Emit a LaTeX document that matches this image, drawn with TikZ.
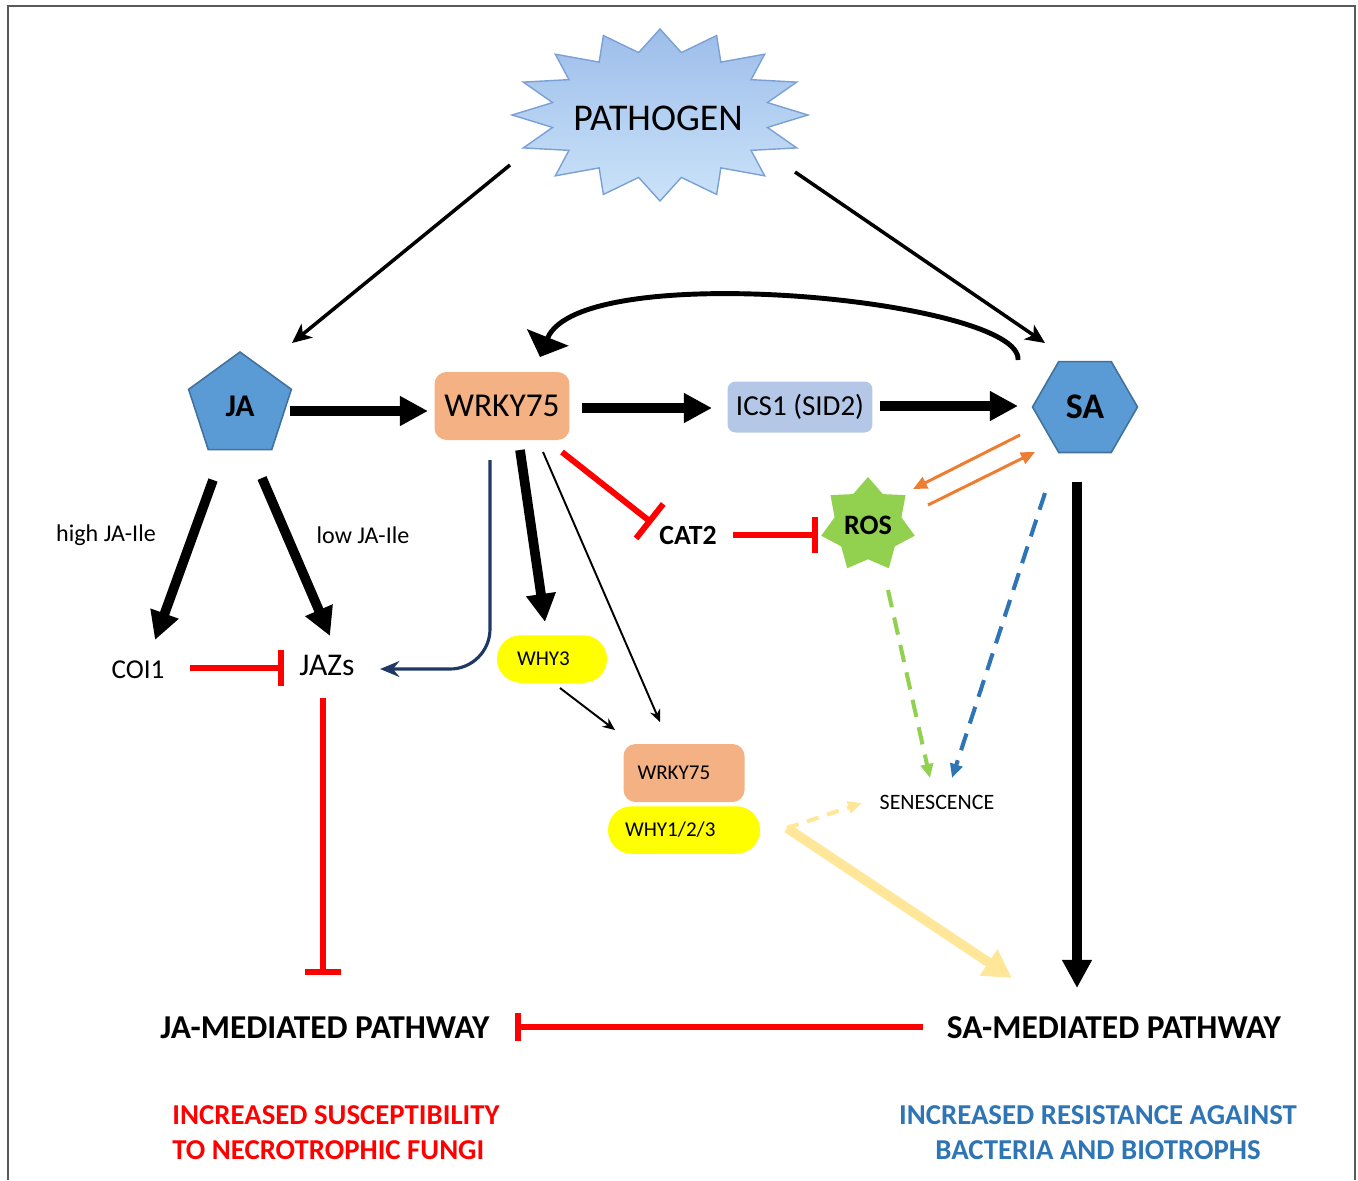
\documentclass[tikz,border=0pt]{standalone}
\usepackage{fontspec}
\setmainfont{Carlito}
\usepackage{xcolor}
\usetikzlibrary{arrows.meta,calc,shapes.geometric}
\definecolor{hblue}{HTML}{5B9BD5}
\definecolor{hedge}{HTML}{41719C}
\definecolor{wrkyorange}{HTML}{F4B183}
\definecolor{icsblue}{HTML}{B4C7E7}
\definecolor{whyyellow}{HTML}{FFFF00}
\definecolor{rosgreen}{HTML}{92D050}
\definecolor{inhred}{HTML}{FF0000}
\definecolor{feedorange}{HTML}{ED7D31}
\definecolor{senblue}{HTML}{2E75B6}
\definecolor{paleyellow}{HTML}{FFE699}
\definecolor{navyline}{HTML}{1F3864}
\definecolor{skytop}{HTML}{9DBDEA}
\definecolor{skybot}{HTML}{CBE3F9}
\definecolor{skyedge}{HTML}{7BA0D4}
\newcommand{\fsz}[1]{\fontsize{#1}{#1}\selectfont}

\begin{document}
\begin{tikzpicture}[
  x=0.02cm,
  y=-0.02cm,
  frame/.style={draw=black!65, line width=0.9pt},
  hormone/.style={regular polygon, draw=hedge, fill=hblue, line width=0.9pt, inner sep=0pt, font=\bfseries\fsz{18}},
  gene/.style={fill=wrkyorange, rounded corners=0.24cm, inner sep=0pt},
  pill/.style={fill=whyyellow, rounded corners=0.47cm, inner sep=0pt, minimum height=0.95cm, align=left, font=\fsz{12}},
  heavy/.style={line width=5.5pt, -{Triangle[length=16pt,width=16pt]}},
  plain/.style={line width=2pt, -{Stealth[length=11pt,width=10pt,inset=3pt]}},
  slim/.style={line width=1.1pt, -{Stealth[length=7pt,width=6pt]}},
  curvy/.style={line width=2.8pt, -{Triangle[length=12pt,width=25pt]}},
  inhib/.style={draw=inhred, line width=3.4pt, -{Bar[width=21pt]}},
  swap/.style={draw=feedorange, line width=1.7pt, -{Triangle[length=8pt,width=7pt]}},
  dashflow/.style={line width=2.3pt, dash pattern=on 10pt off 6pt, -{Triangle[length=8pt,width=7pt]}},
  tag/.style={font=\fsz{13.7}},
  pathway/.style={font=\bfseries\fsz{19}},
  outcome/.style={font=\bfseries\fontsize{16.4}{20}\selectfont, align=center}
]
\useasboundingbox (0,0) rectangle (1358,1180);
\draw[frame] (8,1180) -- (8,6) -- (1355,6) -- (1355,1180);

\shade[top color=skytop, bottom color=skybot, draw=skyedge, line width=0.8pt]
  ($(660,115)+(90:148 and 86)$)
  \foreach \k [evaluate=\k as \r using {mod(\k,2)==0 ? 1 : 0.74}] in {1,...,31} {
    -- ($(660,115)+({90+\k*11.25}:{148*\r} and {86*\r})$) } -- cycle;
\node[font=\fsz{21.5}] (pathogen) at (658,118) {PATHOGEN};

\node[hormone, minimum size=2.16cm] (ja) at (240,406) {JA};
\node[gene, minimum width=2.7cm, minimum height=1.36cm, font=\fsz{19}] (wrky) at (502,406) {WRKY75};
\node[fill=icsblue, rounded corners=0.16cm, minimum width=2.9cm, minimum height=1.02cm, font=\fsz{16.5}] (ics) at (800,407) {ICS1 (SID2)};
\node[hormone, regular polygon sides=6, minimum size=2.1cm, font=\bfseries\fsz{20.5}] (sa) at (1085,407) {SA};
\node[font=\bfseries\fsz{15.8}] (cat2) at (688,535) {CAT2};
\node[star, star points=7, star point ratio=1.4, minimum size=1.92cm, inner sep=0pt, fill=rosgreen, font=\bfseries\fsz{16}] (ros) at (868,525) {ROS};
\node[tag] (high) at (106,535) {high JA-Ile};
\node[tag] (low) at (363,535) {low JA-Ile};
\node[font=\fsz{15.5}] (coi1) at (138,670) {COI1};
\node[font=\fsz{18}] (jazs) at (327,665) {JAZs};
\node[pill, minimum width=2.18cm, text width=1.4cm, inner xsep=0.4cm] (why3) at (552,659) {WHY3};
\node[gene, minimum width=2.42cm, minimum height=1.16cm, text width=1.86cm, inner xsep=0.28cm, align=left, font=\fsz{12}] (wrky2) at (684,773) {WRKY75};
\node[pill, minimum width=3.04cm, text width=2.36cm, inner xsep=0.34cm] (why123) at (684,830) {WHY1/2/3};
\node[font=\fsz{12.5}] (senescence) at (937,802) {SENESCENCE};
\node[pathway] (japath) at (325,1028) {JA-MEDIATED PATHWAY};
\node[pathway] (sapath) at (1114,1028) {SA-MEDIATED PATHWAY};
\node[outcome, align=left, text=inhred] (jaout) at (336,1133) {INCREASED SUSCEPTIBILITY\\TO NECROTROPHIC FUNGI};
\node[outcome, text=senblue] (saout) at (1098,1133) {INCREASED RESISTANCE AGAINST\\BACTERIA AND BIOTROPHS};

\draw[plain] ($(pathogen)+(-148,47)$) -- ($(ja)+(52,-63)$);
\draw[plain] ($(pathogen)+(137,54)$) -- ($(sa)+(-40,-64)$);
\draw[curvy] ($(sa)+(-67,-47)$) .. controls +(5,-60) and +(40,-100) .. ($(wrky)+(38,-49)$);
\draw[heavy] ($(ja)+(50,5)$) -- ($(wrky)+(-74,5)$);
\draw[heavy] ($(wrky)+(80,2)$) -- ($(ics)+(-88,1)$);
\draw[heavy] ($(ics)+(80,-1)$) -- ($(sa)+(-67,-1)$);
\draw[heavy] ($(sa)+(-8,75)$) -- ($(sapath)+(-37,-40)$);
\draw[heavy] ($(ja)+(-27,74)$) -- ($(coi1)+(17,-30)$);
\draw[heavy] ($(ja)+(22,72)$) -- ($(jazs)+(3,-29)$);
\draw[heavy] ($(wrky)+(18,44)$) -- ($(why3)+(-7,-37)$);
\draw[slim] ($(wrky)+(41,46)$) -- ($(wrky2)+(-24,-51)$);
\draw[slim] ($(why3)+(8,29)$) -- ($(wrky2)+(-69,-43)$);
\draw[navyline, line width=1.8pt, rounded corners=0.8cm, -{Stealth[length=11pt,width=9pt]}] ($(wrky)+(-12,54)$) |- ($(jazs)+(53,4)$);
\draw[inhib, -{Bar[width=25pt]}] ($(wrky)+(60,46)$) -- ($(cat2)+(-36,-12)$);
\draw[inhib] ($(cat2)+(45,0)$) -- ($(ros)+(-50,10)$);
\draw[inhib] ($(coi1)+(52,-2)$) -- ($(jazs)+(-43,3)$);
\draw[inhib] ($(jazs)+(-4,33)$) -- ($(japath)+(-2,-53)$);
\draw[inhib, -{Bar[width=16pt]}] ($(sapath)+(-191,-1)$) -- ($(japath)+(190,-1)$);
\draw[swap] ($(sa)+(-65,28)$) -- ($(ros)+(45,-36)$);
\draw[swap] ($(ros)+(60,-20)$) -- ($(sa)+(-50,45)$);
\draw[dashflow, draw=rosgreen] ($(ros)+(20,65)$) -- ($(senescence)+(-7,-24)$);
\draw[dashflow, draw=senblue] ($(sa)+(-40,86)$) -- ($(senescence)+(15,-24)$);
\draw[dashflow, draw=paleyellow, dash pattern=on 7pt off 5pt] ($(why123)+(103,-2)$) -- ($(senescence)+(-75,1)$);
\draw[draw=paleyellow, line width=5.5pt, -{Triangle[length=16pt,width=17pt]}] ($(why123)+(103,-2)$) -- ($(sapath)+(-102,-50)$);
\end{tikzpicture}
\end{document}
